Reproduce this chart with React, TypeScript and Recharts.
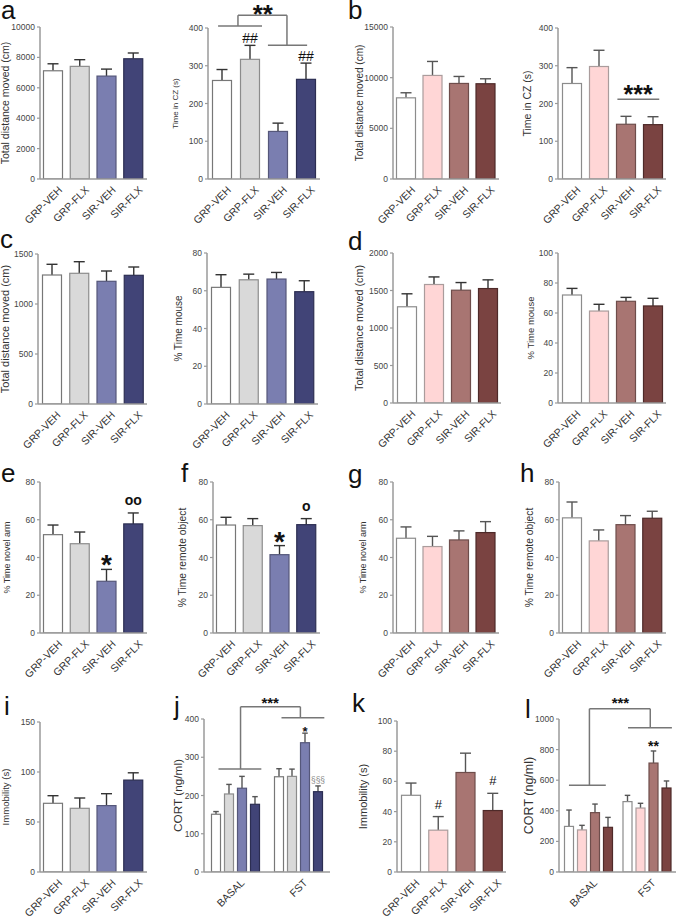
import React from 'react';
import { BarChart, Bar, XAxis, YAxis, ReferenceLine, ReferenceDot } from 'recharts';

const FONT = '"Liberation Sans", Arial, sans-serif';

const groupCats = ['GRP-VEH', 'GRP-FLX', 'SIR-VEH', 'SIR-FLX'];
const phaseCats = ['BASAL', 'FST'];

// a
const aDistance = [7120, 7410, 6770, 7910];
const aDistanceErr = [460, 440, 460, 380];
const aDistanceTicks = [0, 2000, 4000, 6000, 8000, 10000];
const aCZ = [261, 317, 126, 264];
const aCZErr = [29, 37, 22, 43];
const aCZMarks = ['', '##', '', '##'];
const czTicks = [0, 100, 200, 300, 400];
// b
const bDistance = [8010, 10220, 9430, 9400];
const bDistanceErr = [500, 1380, 690, 490];
const bDistanceTicks = [0, 5000, 10000, 15000];
const bCZ = [253, 298, 145, 144];
const bCZErr = [42, 43, 21, 21];
// c
const cDistance = [1290, 1307, 1227, 1287];
const cDistanceErr = [107, 116, 103, 83];
const dist1500Ticks = [0, 500, 1000, 1500];
const cMouse = [61.8, 65.8, 66.2, 59.5];
const cMouseErr = [6.7, 3.0, 3.5, 5.8];
const pct80Ticks = [0, 20, 40, 60, 80];
// d
const dDistance = [1283, 1580, 1504, 1526];
const dDistanceErr = [173, 101, 102, 116];
const dist2000Ticks = [0, 500, 1000, 1500, 2000];
const dMouse = [72, 61.3, 67.8, 64.7];
const dMouseErr = [4.4, 4.5, 2.6, 5.1];
const pct100Ticks = [0, 20, 40, 60, 80, 100];
// e, f
const eNovel = [52.1, 47.3, 27.4, 57.8];
const eNovelErr = [5.1, 6.2, 6.3, 5.8];
const eNovelMarks = ['', '', '*', 'oo'];
const fRemote = [57.2, 56.9, 41.5, 57.4];
const fRemoteErr = [4.1, 3.7, 4.8, 3.2];
const fRemoteMarks = ['', '', '*', 'o'];
// g, h
const gNovel = [50.2, 45.8, 49.3, 53.2];
const gNovelErr = [6.0, 5.4, 4.8, 5.8];
const hRemote = [61.0, 48.8, 57.4, 60.8];
const hRemoteErr = [8.4, 5.8, 4.8, 3.7];
// i, j
const iImmob = [68.7, 63.7, 66.4, 91.9];
const iImmobErr = [7.6, 10.3, 11.9, 7.3];
const immob150Ticks = [0, 50, 100, 150];
const jBasal = [151, 204, 219, 177];
const jBasalErr = [7, 25, 31, 20];
const jFst = [249, 250, 338, 210];
const jFstErr = [21, 19, 25, 15];
const jFstMarks = ['', '', '*', '§§§'];
const cort400Ticks = [0, 100, 200, 300, 400];
// k, l
const kImmob = [50.8, 27.7, 65.9, 40.7];
const kImmobErr = [8.1, 9.0, 12.8, 11.4];
const kImmobMarks = ['', '#', '', '#'];
const lBasal = [298, 275, 388, 292];
const lBasalErr = [107, 30, 56, 65];
const lFst = [460, 418, 712, 549];
const lFstErr = [41, 31, 79, 46];
const lFstMarks = ['', '', '**', ''];
const cort1000Ticks = [0, 200, 400, 600, 800, 1000];
const noMarks = ['', '', '', ''];

// significance brackets: [x1, y1, x2, y2]; x in band units (band i spans i..i+1), y in data units
const aBracket = [[0.36, 405, 1.93, 405], [1.07, 405, 1.07, 434], [1.07, 434, 2.82, 434], [2.82, 434, 2.82, 354], [2.14, 354, 3.54, 354]];
const bBracket = [[2.2, 211, 3.75, 211]];
const jBracket = [[0.23, 269, 0.91, 269], [0.58, 269, 0.58, 432], [0.58, 432, 1.53, 432], [1.53, 432, 1.53, 403], [1.23, 403, 1.91, 403]];
const lBracket = [[0.17, 567, 0.8, 567], [0.52, 567, 0.52, 1067], [0.52, 1067, 1.56, 1067], [1.56, 1067, 1.56, 943], [1.18, 943, 1.93, 943]];

const blues = ['#ffffff', '#d9d9d9', '#7a7eb0', '#414477'];
const blueEdges = ['#777777', '#8c8c8c', '#55577a', '#2c2e52'];
const reds = ['#ffffff', '#ffd6d6', '#a87572', '#7a4341'];
const redEdges = ['#8c8c8c', '#aa9c9c', '#6e4d4b', '#4e2a29'];

type MarkStyle = { size: number; gap: number; fill?: string; weight?: number };
type Note = { x: number; y: number; text: string; size: number };
type Series = { key: string; err: string; mark: string; fill: (i: number) => string; edge: (i: number) => string };
type Cfg = {
  px: number; py: number; pw: number; ph: number;
  rows: any[]; series: Series[]; bands: number;
  barSize: number; barGap?: number;
  ymax: number; ticks: number[];
  ylabel: string; labelSize: number; labelX: number;
  errColor: string;
  markStyles?: Record<string, MarkStyle>;
  segs?: number[][]; notes?: Note[];
};

const simpleRows = (vals: number[], errs: number[], marks: string[] = noMarks) =>
  groupCats.map((name, i) => ({ name, slot: i, v: vals[i], e: errs[i], m: marks[i] }));
const simpleSeries = (pal: string[], edges: string[]): Series[] => [
  { key: 'v', err: 'e', mark: 'm', fill: (i) => pal[i], edge: (i) => edges[i] },
];
const phaseRows = (vals: number[][], errs: number[][], marks: string[][]) =>
  phaseCats.map((name, g) => {
    const r: any = { name, slot: g };
    vals[g].forEach((v, k) => {
      r['v' + k] = v;
      r['e' + k] = errs[g][k];
      r['m' + k] = marks[g][k];
    });
    return r;
  });
const phaseSeries = (pal: string[], edges: string[]): Series[] =>
  pal.map((_, k) => ({ key: 'v' + k, err: 'e' + k, mark: 'm' + k, fill: () => pal[k], edge: () => edges[k] }));

function barShape(s: Series, cfg: Cfg) {
  return (p: any) => {
    const { x, y, width, height, index, payload } = p;
    const val = payload[s.key];
    const err = payload[s.err];
    const errTop = y - (height / val) * err;
    const cx = x + width / 2;
    const cap = width * 0.55;
    const mark = payload[s.mark];
    const ms = mark && cfg.markStyles ? cfg.markStyles[mark] : undefined;
    return (
      <g>
        <line x1={cx} x2={cx} y1={y} y2={errTop} stroke={cfg.errColor} strokeWidth={1.4} />
        <line x1={cx - cap / 2} x2={cx + cap / 2} y1={errTop} y2={errTop} stroke={cfg.errColor} strokeWidth={1.4} />
        <rect x={x + 0.5} y={y} width={width - 1} height={height} fill={s.fill(index)} stroke={s.edge(index)} strokeWidth={1.2} />
        {ms && (
          <text x={cx} y={errTop - ms.gap} textAnchor="middle" fontSize={ms.size} fontWeight={ms.weight || 400}
            fill={ms.fill || '#111'} fontFamily={FONT}>{mark}</text>
        )}
      </g>
    );
  };
}

const catTick = (p: any) => (
  <g transform={`translate(${p.x + 4},${p.y + 1})`}>
    <text x={0} y={0} dy="0.75em" textAnchor="end" fontSize={10.5} fill="#333" fontFamily={FONT} transform="rotate(-45)">
      {p.payload.value}
    </text>
  </g>
);

function Panel({ cfg }: { cfg: Cfg }) {
  const MT = 45;
  const XH = 55;
  const YW = 48;
  const left = cfg.px - YW;
  const top = cfg.py - MT;
  const width = YW + cfg.pw + 4;
  const height = MT + cfg.ph + XH;
  // the hidden "slot" axis runs from the first row (0) to the last (bands - 1) across the plot width
  const sx = (u: number) => (u * (cfg.bands - 1)) / cfg.bands;
  return (
    <div style={{ position: 'absolute', left, top, width, height }}>
      <BarChart width={width} height={height} data={cfg.rows} margin={{ top: MT, right: 4, bottom: 0, left: 0 }}
        barSize={cfg.barSize} barGap={cfg.barGap ?? 4} style={{ fontFamily: FONT }}>
        <XAxis dataKey="name" height={XH} interval={0} tickLine={false} tickSize={3} tickMargin={2}
          axisLine={{ stroke: '#9a9a9a', strokeWidth: 1.5 }} tick={catTick} />
        <XAxis xAxisId="n" dataKey="slot" type="number" domain={['dataMin', 'dataMax']} hide />
        <YAxis width={YW} type="number" domain={[0, cfg.ymax]} ticks={cfg.ticks} interval={0} allowDataOverflow
          tickSize={3} tickMargin={2} axisLine={{ stroke: '#9a9a9a', strokeWidth: 1.5 }}
          tickLine={{ stroke: '#9a9a9a', strokeWidth: 1.2 }}
          tick={{ fontSize: 8.5, fill: '#444', fontFamily: FONT }}
          label={{ value: cfg.ylabel, angle: -90, position: 'insideLeft', offset: cfg.labelX - left,
            style: { textAnchor: 'middle', fontSize: cfg.labelSize, fill: '#333', fontFamily: FONT } }} />
        {cfg.series.map((s) => (
          <Bar key={s.key} dataKey={s.key} isAnimationActive={false} shape={barShape(s, cfg)} />
        ))}
        {(cfg.segs || []).map((g, i) => (
          <ReferenceLine key={'s' + i} xAxisId="n" ifOverflow="visible" stroke="#777" strokeWidth={1.5}
            segment={[{ x: sx(g[0]), y: g[1] }, { x: sx(g[2]), y: g[3] }]} />
        ))}
        {(cfg.notes || []).map((n, i) => (
          <ReferenceDot key={'n' + i} xAxisId="n" x={sx(n.x)} y={n.y} r={0} ifOverflow="visible" fill="none" stroke="none"
            label={{ value: n.text, position: 'center', fontSize: n.size, fill: '#111', fontWeight: 700, fontFamily: FONT }} />
        ))}
      </BarChart>
    </div>
  );
}

const starBig: Record<string, MarkStyle> = {
  '*': { size: 28, gap: -5, weight: 700 },
  'oo': { size: 14, gap: 8, weight: 700 },
  'o': { size: 14, gap: 8, weight: 700 },
};

const panels: Cfg[] = [
  { px: 40, py: 27, pw: 107, ph: 152, rows: simpleRows(aDistance, aDistanceErr), series: simpleSeries(blues, blueEdges), bands: 4,
    barSize: 20, ymax: 10000, ticks: aDistanceTicks, ylabel: 'Total distance moved (cm)', labelSize: 10.5, labelX: 5, errColor: '#333' },
  { px: 208, py: 28, pw: 112, ph: 151, rows: simpleRows(aCZ, aCZErr, aCZMarks), series: simpleSeries(blues, blueEdges), bands: 4,
    barSize: 20, ymax: 400, ticks: czTicks, ylabel: 'Time in CZ (s)', labelSize: 8, labelX: 175, errColor: '#333',
    markStyles: { '##': { size: 14, gap: 2.5 } }, segs: aBracket, notes: [{ x: 1.96, y: 437, text: '**', size: 26 }] },
  { px: 393, py: 27, pw: 106, ph: 152, rows: simpleRows(bDistance, bDistanceErr), series: simpleSeries(reds, redEdges), bands: 4,
    barSize: 20, ymax: 15000, ticks: bDistanceTicks, ylabel: 'Total distance moved (cm)', labelSize: 10, labelX: 359, errColor: '#555' },
  { px: 558, py: 28, pw: 108, ph: 151, rows: simpleRows(bCZ, bCZErr), series: simpleSeries(reds, redEdges), bands: 4,
    barSize: 20, ymax: 400, ticks: czTicks, ylabel: 'Time in CZ (s)', labelSize: 10.5, labelX: 527, errColor: '#555',
    segs: bBracket, notes: [{ x: 2.97, y: 226, text: '***', size: 25 }] },
  { px: 38, py: 254, pw: 109, ph: 150, rows: simpleRows(cDistance, cDistanceErr), series: simpleSeries(blues, blueEdges), bands: 4,
    barSize: 20, ymax: 1500, ticks: dist1500Ticks, ylabel: 'Total distance moved (cm)', labelSize: 11, labelX: 5, errColor: '#333' },
  { px: 207, py: 253, pw: 111, ph: 151, rows: simpleRows(cMouse, cMouseErr), series: simpleSeries(blues, blueEdges), bands: 4,
    barSize: 20, ymax: 80, ticks: pct80Ticks, ylabel: '% Time mouse', labelSize: 10, labelX: 178, errColor: '#333' },
  { px: 393, py: 253, pw: 108, ph: 150, rows: simpleRows(dDistance, dDistanceErr), series: simpleSeries(reds, redEdges), bands: 4,
    barSize: 20, ymax: 2000, ticks: dist2000Ticks, ylabel: 'Total distance moved (cm)', labelSize: 10.8, labelX: 359, errColor: '#333' },
  { px: 558, py: 253, pw: 108, ph: 150, rows: simpleRows(dMouse, dMouseErr), series: simpleSeries(reds, redEdges), bands: 4,
    barSize: 20, ymax: 100, ticks: pct100Ticks, ylabel: '% Time mouse', labelSize: 9.5, labelX: 531, errColor: '#333' },
  { px: 40, py: 482, pw: 107, ph: 151, rows: simpleRows(eNovel, eNovelErr, eNovelMarks), series: simpleSeries(blues, blueEdges), bands: 4,
    barSize: 20, ymax: 80, ticks: pct80Ticks, ylabel: '% Time novel arm', labelSize: 9, labelX: 7, errColor: '#333', markStyles: starBig },
  { px: 213, py: 482, pw: 107, ph: 151, rows: simpleRows(fRemote, fRemoteErr, fRemoteMarks), series: simpleSeries(blues, blueEdges), bands: 4,
    barSize: 20, ymax: 80, ticks: pct80Ticks, ylabel: '% Time remote object', labelSize: 10.3, labelX: 182, errColor: '#333', markStyles: starBig },
  { px: 393, py: 482, pw: 106, ph: 151, rows: simpleRows(gNovel, gNovelErr), series: simpleSeries(reds, redEdges), bands: 4,
    barSize: 20, ymax: 80, ticks: pct80Ticks, ylabel: '% Time novel arm', labelSize: 9, labelX: 363, errColor: '#555' },
  { px: 559, py: 482, pw: 107, ph: 151, rows: simpleRows(hRemote, hRemoteErr), series: simpleSeries(reds, redEdges), bands: 4,
    barSize: 20, ymax: 80, ticks: pct80Ticks, ylabel: '% Time remote object', labelSize: 10.3, labelX: 529, errColor: '#555' },
  { px: 40, py: 722, pw: 107, ph: 150, rows: simpleRows(iImmob, iImmobErr), series: simpleSeries(blues, blueEdges), bands: 4,
    barSize: 20, ymax: 150, ticks: immob150Ticks, ylabel: 'Immobility (s)', labelSize: 9.6, labelX: 6, errColor: '#333' },
  { px: 204, py: 719, pw: 126, ph: 153, rows: phaseRows([jBasal, jFst], [jBasalErr, jFstErr], [noMarks, jFstMarks]),
    series: phaseSeries(blues, blueEdges), bands: 2, barSize: 10, barGap: 3, ymax: 400, ticks: cort400Ticks,
    ylabel: 'CORT (ng/ml)', labelSize: 11.8, labelX: 178, errColor: '#555',
    markStyles: { '*': { size: 13, gap: -3, weight: 700 }, '§§§': { size: 8.4, gap: 3, fill: '#888' } },
    segs: jBracket, notes: [{ x: 1.05, y: 442, text: '***', size: 15 }] },
  { px: 397, py: 721, pw: 109, ph: 151, rows: simpleRows(kImmob, kImmobErr, kImmobMarks), series: simpleSeries(reds, redEdges), bands: 4,
    barSize: 20, ymax: 100, ticks: pct100Ticks, ylabel: 'Immobility (s)', labelSize: 11, labelX: 363, errColor: '#555',
    markStyles: { '#': { size: 13, gap: 8 } } },
  { px: 559, py: 719, pw: 117, ph: 153, rows: phaseRows([lBasal, lFst], [lBasalErr, lFstErr], [noMarks, lFstMarks]),
    series: phaseSeries(reds, redEdges), bands: 2, barSize: 10, barGap: 3, ymax: 1000, ticks: cort1000Ticks,
    ylabel: 'CORT (ng/ml)', labelSize: 12.5, labelX: 529, errColor: '#555',
    markStyles: { '**': { size: 14, gap: 0, weight: 700 } },
    segs: lBracket, notes: [{ x: 1.05, y: 1105, text: '***', size: 15 }] },
];

const letters = [
  { t: 'a', x: 1, b: 19 }, { t: 'b', x: 348, b: 19 },
  { t: 'c', x: 0, b: 248 }, { t: 'd', x: 348, b: 250 },
  { t: 'e', x: 1, b: 482 }, { t: 'f', x: 181, b: 482 },
  { t: 'g', x: 348, b: 483 }, { t: 'h', x: 520, b: 482 },
  { t: 'i', x: 4, b: 715 }, { t: 'j', x: 174, b: 715 },
  { t: 'k', x: 352, b: 712 }, { t: 'l', x: 525, b: 718 },
];

export default function App() {
  return (
    <div style={{ position: 'absolute', left: 0, top: 0, width: 676, height: 917, overflow: 'hidden', background: '#fff', fontFamily: FONT }}>
      {panels.map((c, i) => (
        <Panel key={i} cfg={c} />
      ))}
      {letters.map((l) => (
        <div key={l.t} style={{ position: 'absolute', left: l.x, top: l.b - 22, fontSize: 26, lineHeight: 1, color: '#111' }}>
          {l.t}
        </div>
      ))}
    </div>
  );
}
